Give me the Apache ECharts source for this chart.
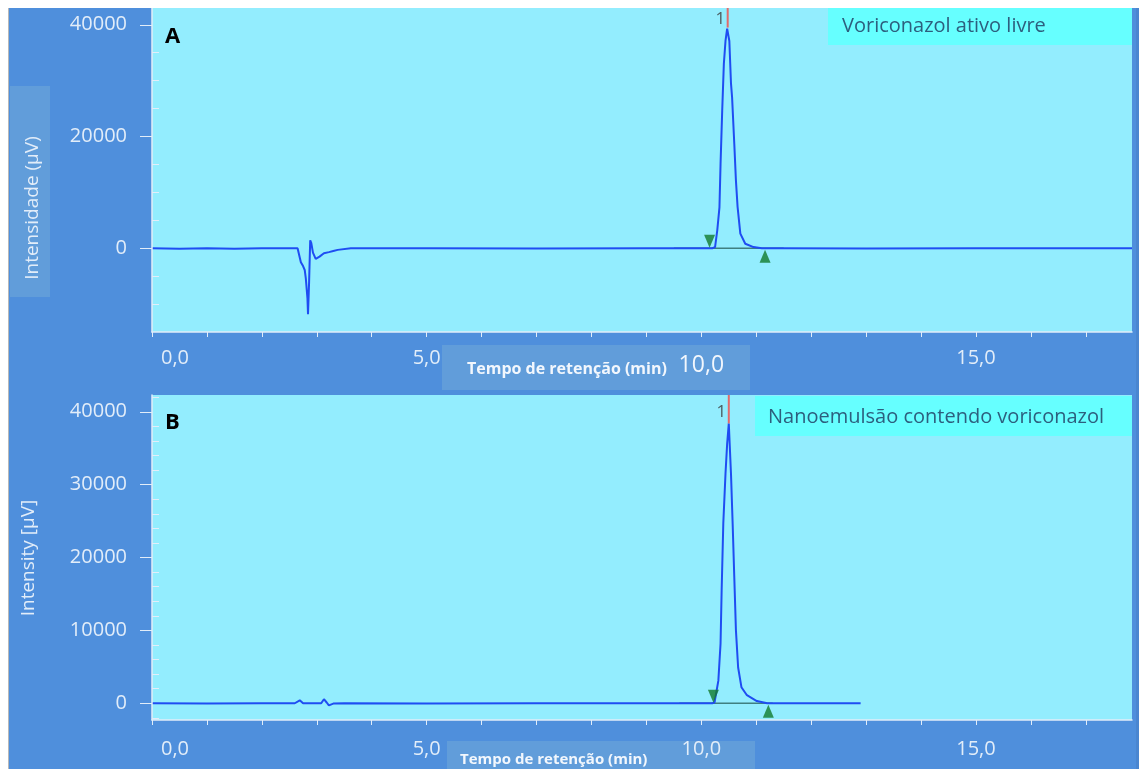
<!DOCTYPE html>
<html>
<head>
<meta charset="utf-8">
<script src="https://cdn.jsdelivr.net/npm/echarts@6/dist/echarts.min.js"></script>
<style>
html,body{margin:0;padding:0;background:#ffffff;}
#chart{width:1139px;height:769px;}
</style>
</head>
<body>
<div id="chart"></div>
<script>
// ---- Data ----
// Panel A: Voriconazol ativo livre (time in min, intensity in µV)
const timeA = [0, 0.5, 1.0, 1.5, 2.0, 2.5, 2.65, 2.71, 2.75, 2.78, 2.80, 2.83, 2.84, 2.86, 2.88, 2.90, 2.93, 2.98, 3.05, 3.13, 3.22, 3.30, 3.38, 3.62, 5.0, 7.0, 9.0, 10.0, 10.2, 10.25, 10.29, 10.33, 10.35, 10.38, 10.41, 10.44, 10.47, 10.48, 10.51, 10.54, 10.56, 10.60, 10.63, 10.66, 10.71, 10.80, 10.95, 11.1, 11.5, 13.0, 15.0, 17.84];
const intensityA = [0, -100, 0, -80, 0, 0, 0, -2500, -3200, -3900, -5400, -9000, -11800, -6000, 1400, 900, -800, -1900, -1500, -900, -700, -500, -300, 0, 0, -50, 0, 0, 0, 200, 3200, 7300, 15100, 24600, 33000, 37100, 39300, 39500, 37100, 29500, 27000, 18700, 12100, 7400, 2600, 800, 200, 0, 0, -50, 0, 0];
// Panel B: Nanoemulsão contendo voriconazol
const timeB = [0, 1.0, 2.0, 2.6, 2.69, 2.75, 3.08, 3.13, 3.18, 3.22, 3.30, 3.5, 5.0, 7.0, 9.0, 10.2, 10.24, 10.31, 10.35, 10.37, 10.40, 10.44, 10.47, 10.50, 10.54, 10.57, 10.60, 10.63, 10.67, 10.73, 10.83, 11.01, 11.2, 12.9];
const intensityB = [0, -50, 0, 0, 400, 0, 0, 550, 100, -300, -50, 0, -30, 0, 0, 0, 100, 3100, 8200, 15500, 24700, 31500, 35600, 38400, 31500, 24700, 17300, 10000, 4900, 2200, 1100, 300, 0, 0];
// Peak 1 apex and integration markers [start, end] (min)
const peakA = [10.48, 39500];
const peakB = [10.50, 38400];
const integA = [10.15, 11.16];
const integB = [10.22, 11.22];
const baseA = [9.5, 11.5];
const baseB = [9.6, 11.3];
// Axis ticks
const xLabelTicks = [0, 5, 10, 15];
const yMajorA = [0, 20000, 40000];
const yMinorA = [-10000, -5000, 5000, 10000, 15000, 25000, 30000, 35000];
const yMajorB = [0, 10000, 20000, 30000, 40000];
const yMinorB = [-2000, 2000, 4000, 6000, 8000, 12000, 14000, 16000, 18000, 22000, 24000, 26000, 28000, 32000, 34000, 36000, 38000, 42000];
const titleA = 'Voriconazol ativo livre';
const titleB = 'Nanoemulsão contendo voriconazol';

const FONT = '"Open Sans", "Noto Sans", sans-serif';
const LIGHT = '#e2edf9';
const zip = (t, v) => t.map((x, i) => [x, v[i]]);

function fmtX(v) { return v.toFixed(1).replace('.', ','); }

function xAxis(gi, bigTen) {
  return {
    type: 'value', gridIndex: gi, min: 0, max: 17.84, interval: 1, z: 10,
    axisLine: { show: true, onZero: false, lineStyle: { color: LIGHT, width: 1.5 } },
    axisTick: { show: true, length: 5, lineStyle: { color: LIGHT } },
    splitLine: { show: false },
    axisLabel: {
      show: true, color: LIGHT, fontFamily: FONT, fontSize: 20, margin: gi === 0 ? 16 : 19,
      showMaxLabel: false,
      formatter: function (v) {
        if (xLabelTicks.indexOf(v) < 0) return '';
        if (v === 0) return '{first|' + fmtX(v) + '}';
        if (v === 10 && bigTen) return '{big|' + fmtX(v) + '}';
        return fmtX(v);
      },
      rich: {
        first: { color: LIGHT, fontFamily: FONT, fontSize: 20, padding: [0, 0, 0, 46] },
        big: { color: '#f2f7fd', fontFamily: FONT, fontSize: 23, padding: [6, 0, 0, 0] }
      }
    }
  };
}

function yAxes(gi, min, max, major, minor) {
  return [{
    type: 'value', gridIndex: gi, min: min, max: max, z: 10,
    axisLine: { show: true, onZero: false, lineStyle: { color: LIGHT, width: 1.5 } },
    axisTick: { show: true, length: 12, customValues: major, lineStyle: { color: LIGHT } },
    axisLabel: { show: true, customValues: major, color: LIGHT, fontFamily: FONT, fontSize: 20, margin: 25,
      formatter: function (v) { return String(v); } },
    splitLine: { show: false }
  }, {
    type: 'value', gridIndex: gi, min: min, max: max, z: 10,
    axisLine: { show: false },
    axisTick: { show: true, length: 7, customValues: minor, lineStyle: { color: LIGHT } },
    axisLabel: { show: false },
    splitLine: { show: false }
  }];
}

function traceSeries(xi, yi, data) {
  return { type: 'line', xAxisIndex: xi, yAxisIndex: yi, data: data, showSymbol: false, symbol: 'none',
    lineStyle: { color: '#1f4df2', width: 2 }, z: 3, animation: false };
}
function simpleLine(xi, yi, data, color, width, z) {
  return { type: 'line', xAxisIndex: xi, yAxisIndex: yi, data: data, showSymbol: false, symbol: 'none',
    lineStyle: { color: color, width: width }, z: z, animation: false };
}
function marker(xi, yi, x, down) {
  return { type: 'scatter', xAxisIndex: xi, yAxisIndex: yi, data: [[x, 0]], symbol: 'triangle',
    symbolRotate: down ? 180 : 0, symbolSize: [11, 13], symbolOffset: [0, down ? -7 : 8],
    itemStyle: { color: '#137a2c' }, z: 6, animation: false };
}
function peakLabel(xi, yi, x, y) {
  return { type: 'scatter', xAxisIndex: xi, yAxisIndex: yi, data: [[x, y]], symbolSize: 1,
    itemStyle: { color: 'rgba(0,0,0,0)' }, z: 7, animation: false,
    label: { show: true, formatter: '1', position: 'left', distance: 1, color: '#3a3a3a', fontFamily: FONT, fontSize: 17 } };
}

const maxA = 43000, minA = -15000, maxB = 42300, minB = -2300;

const option = {
  backgroundColor: '#4f8fdc',
  animation: false,
  grid: [
    { left: 152, right: 7, top: 8, height: 324, show: true, backgroundColor: '#93edfe', borderWidth: 0 },
    { left: 152, right: 7, top: 395, height: 325, show: true, backgroundColor: '#93edfe', borderWidth: 0 }
  ],
  xAxis: [xAxis(0, true), xAxis(1, false)],
  yAxis: [].concat(yAxes(0, minA, maxA, yMajorA, yMinorA), yAxes(1, minB, maxB, yMajorB, yMinorB)),
  series: [
    simpleLine(0, 0, [[baseA[0], 0], [baseA[1], 0]], '#3f7f80', 1.5, 2),
    traceSeries(0, 0, zip(timeA, intensityA)),
    simpleLine(0, 0, [[peakA[0], peakA[1]], [peakA[0], maxA]], '#e26a6a', 2, 5),
    marker(0, 0, integA[0], true),
    marker(0, 0, integA[1], false),
    peakLabel(0, 0, peakA[0] - 0.02, 41000),
    simpleLine(1, 2, [[baseB[0], 0], [baseB[1], 0]], '#3f7f80', 1.5, 2),
    traceSeries(1, 2, zip(timeB, intensityB)),
    simpleLine(1, 2, [[peakB[0], peakB[1]], [peakB[0], maxB]], '#e26a6a', 2, 5),
    marker(1, 2, integB[0], true),
    marker(1, 2, integB[1], false),
    peakLabel(1, 2, peakB[0] - 0.02, 40000)
  ],
  graphic: [
    { type: 'rect', shape: { x: 0, y: 0, width: 8, height: 769 }, style: { fill: '#ffffff' }, z: 100 },
    { type: 'rect', shape: { x: 0, y: 0, width: 1139, height: 8 }, style: { fill: '#ffffff' }, z: 100 },
    { type: 'rect', shape: { x: 8, y: 8, width: 1, height: 761 }, style: { fill: '#b8b8b8' }, z: 100 },
    { type: 'rect', shape: { x: 1136, y: 8, width: 3, height: 761 }, style: { fill: '#4a86d0' }, z: 1 },
    // y-axis names
    { type: 'rect', shape: { x: 10, y: 86, width: 40, height: 211 }, style: { fill: 'rgba(120,175,215,0.45)' }, z: 1 },
    { type: 'text', x: 33, y: 208, rotation: Math.PI / 2, z: 2,
      style: { text: 'Intensidade (µV)', fill: LIGHT, font: '19px ' + FONT, textAlign: 'center', textVerticalAlign: 'middle' } },
    { type: 'text', x: 29, y: 558, rotation: Math.PI / 2, z: 2,
      style: { text: 'Intensity [µV]', fill: LIGHT, font: '19px ' + FONT, textAlign: 'center', textVerticalAlign: 'middle' } },
    // x-axis names
    { type: 'rect', shape: { x: 442, y: 345, width: 308, height: 45 }, style: { fill: 'rgba(120,175,215,0.45)' }, z: 1 },
    { type: 'text', x: 467, y: 369, z: 2,
      style: { text: 'Tempo de retenção (min)', fill: '#f2f7fd', font: 'bold 16px ' + FONT, textAlign: 'left', textVerticalAlign: 'middle' } },
    { type: 'rect', shape: { x: 447, y: 741, width: 308, height: 30 }, style: { fill: 'rgba(120,175,215,0.45)' }, z: 1 },
    { type: 'text', x: 460, y: 760, z: 2,
      style: { text: 'Tempo de retenção (min)', fill: '#f2f7fd', font: 'bold 15px ' + FONT, textAlign: 'left', textVerticalAlign: 'middle' } },
    // sample titles
    { type: 'rect', shape: { x: 828, y: 8, width: 304, height: 37 }, style: { fill: '#66ffff' }, z: 20 },
    { type: 'text', x: 842, y: 26, z: 21,
      style: { text: titleA, fill: '#2d5f7e', font: '20px ' + FONT, textAlign: 'left', textVerticalAlign: 'middle' } },
    { type: 'rect', shape: { x: 755, y: 396, width: 377, height: 40 }, style: { fill: '#66ffff' }, z: 20 },
    { type: 'text', x: 768, y: 417, z: 21,
      style: { text: titleB, fill: '#2d5f7e', font: '20px ' + FONT, textAlign: 'left', textVerticalAlign: 'middle' } },
    // panel letters
    { type: 'text', x: 165, y: 37, z: 21,
      style: { text: 'A', fill: '#000000', font: 'bold 22px ' + FONT, textAlign: 'left', textVerticalAlign: 'middle' } },
    { type: 'text', x: 165, y: 423, z: 21,
      style: { text: 'B', fill: '#000000', font: 'bold 22px ' + FONT, textAlign: 'left', textVerticalAlign: 'middle' } }
  ]
};

const chart = echarts.init(document.getElementById('chart'), null, { renderer: 'canvas' });
chart.setOption(option);
</script>
</body>
</html>
